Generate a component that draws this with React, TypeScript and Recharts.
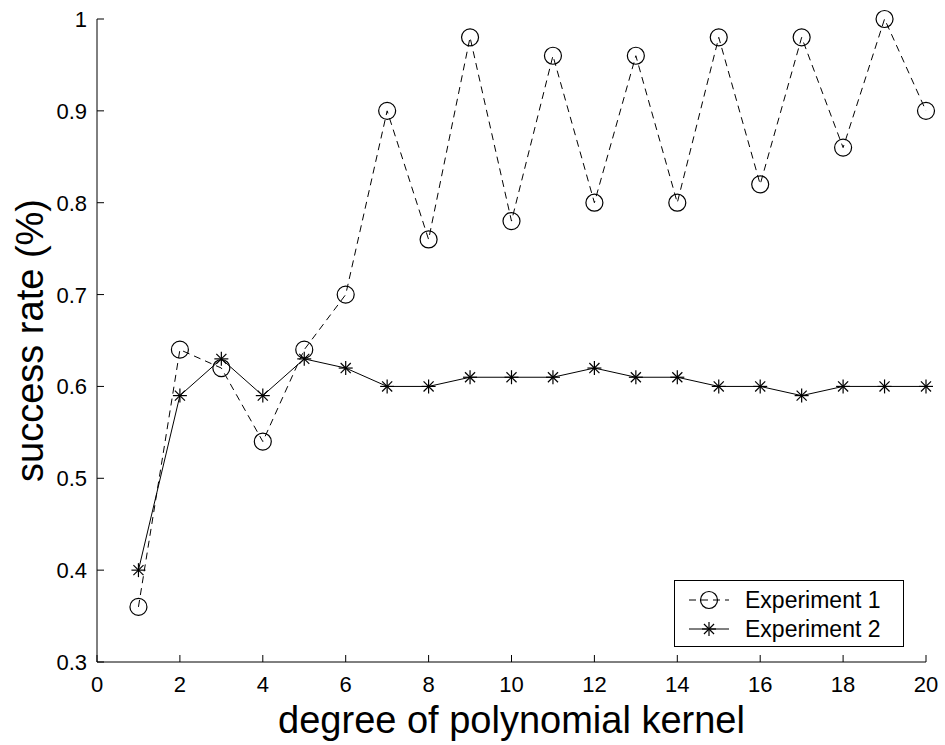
import React from 'react'
import { LineChart, Line, XAxis, YAxis, Legend } from 'recharts'

const degrees = [1, 2, 3, 4, 5, 6, 7, 8, 9, 10, 11, 12, 13, 14, 15, 16, 17, 18, 19, 20]
const experiment1 = [0.36, 0.64, 0.62, 0.54, 0.64, 0.7, 0.9, 0.76, 0.98, 0.78, 0.96, 0.8, 0.96, 0.8, 0.98, 0.82, 0.98, 0.86, 1.0, 0.9]
const experiment2 = [0.4, 0.59, 0.63, 0.59, 0.63, 0.62, 0.6, 0.6, 0.61, 0.61, 0.61, 0.62, 0.61, 0.61, 0.6, 0.6, 0.59, 0.6, 0.6, 0.6]
const xTicks = [0, 2, 4, 6, 8, 10, 12, 14, 16, 18, 20]
const yTicks = [0.3, 0.4, 0.5, 0.6, 0.7, 0.8, 0.9, 1]
const seriesNames = ['Experiment 1', 'Experiment 2']

const data = degrees.map((d, i) => ({ degree: d, exp1: experiment1[i], exp2: experiment2[i] }))

const FONT = '"Liberation Sans", Arial, Helvetica, sans-serif'
const TICK_LEN = 7

function BottomTick(props: any) {
  const { x, y, payload } = props
  return (
    <g>
      <line x1={x} y1={y} x2={x} y2={y - TICK_LEN} stroke="#000" />
      <text x={x} y={y + 30} textAnchor="middle" fontSize={22} fontFamily={FONT} fill="#000">
        {payload.value}
      </text>
    </g>
  )
}

function TopTick(props: any) {
  const { x, y } = props
  return <line x1={x} y1={y} x2={x} y2={y + TICK_LEN} stroke="#000" />
}

function LeftTick(props: any) {
  const { x, y, payload } = props
  return (
    <g>
      <line x1={x} y1={y} x2={x + TICK_LEN} y2={y} stroke="#000" />
      <text x={x - 10} y={y + 8} textAnchor="end" fontSize={22} fontFamily={FONT} fill="#000">
        {String(payload.value)}
      </text>
    </g>
  )
}

function RightTick(props: any) {
  const { x, y } = props
  return <line x1={x} y1={y} x2={x - TICK_LEN} y2={y} stroke="#000" />
}

function YLabel(props: any) {
  const vb = props.viewBox || {}
  const cy = (vb.y ?? 19) + (vb.height ?? 643) / 2
  const bx = 43
  return (
    <text
      x={bx}
      y={cy}
      transform={`rotate(-90, ${bx}, ${cy})`}
      textAnchor="middle"
      fontSize={38}
      fontFamily={FONT}
      fill="#000"
    >
      success rate (%)
    </text>
  )
}

function Asterisk({ cx, cy, s = 7 }: { cx: number; cy: number; s?: number }) {
  const d = s * 0.72
  return (
    <g stroke="#000" strokeWidth={1.2}>
      <line x1={cx - s} y1={cy} x2={cx + s} y2={cy} />
      <line x1={cx} y1={cy - s} x2={cx} y2={cy + s} />
      <line x1={cx - d} y1={cy - d} x2={cx + d} y2={cy + d} />
      <line x1={cx - d} y1={cy + d} x2={cx + d} y2={cy - d} />
    </g>
  )
}

const circleDot = (p: any) => (
  <circle key={'c' + p.index} cx={p.cx} cy={p.cy} r={8.5} fill="none" stroke="#000" strokeWidth={1.2} />
)
const starDot = (p: any) => <Asterisk key={'s' + p.index} cx={p.cx} cy={p.cy} />

function LegendBox() {
  return (
    <div style={{ width: 230, height: 67, border: '1px solid #000', background: '#fff', boxSizing: 'border-box' }}>
      <svg width={228} height={65}>
        <line x1={14} y1={19} x2={54} y2={19} stroke="#000" strokeDasharray="7 5" />
        <circle cx={34} cy={19} r={8.5} fill="none" stroke="#000" strokeWidth={1.2} />
        <text x={70} y={27} fontSize={23} fontFamily={FONT} fill="#000">{seriesNames[0]}</text>
        <line x1={14} y1={48} x2={54} y2={48} stroke="#000" />
        <Asterisk cx={34} cy={48} />
        <text x={70} y={56} fontSize={23} fontFamily={FONT} fill="#000">{seriesNames[1]}</text>
      </svg>
    </div>
  )
}

export default function App() {
  return (
    <div style={{ position: 'absolute', left: 0, top: 0, background: '#fff' }}>
      <LineChart width={945} height={745} data={data} margin={{ top: 19, right: 19, bottom: 0, left: 0 }}>
        <XAxis
          xAxisId="bottom"
          dataKey="degree"
          type="number"
          domain={[0, 20]}
          ticks={xTicks}
          interval={0}
          height={83}
          tickSize={0}
          tickMargin={0}
          tickLine={false}
          axisLine={{ stroke: '#000' }}
          tick={<BottomTick />}
          label={{ value: 'degree of polynomial kernel', position: 'insideBottom', offset: 12, fontSize: 38, fontFamily: FONT, fill: '#000' }}
        />
        <XAxis
          xAxisId="top"
          orientation="top"
          dataKey="degree"
          type="number"
          domain={[0, 20]}
          ticks={xTicks}
          interval={0}
          height={0}
          tickSize={0}
          tickMargin={0}
          tickLine={false}
          axisLine={{ stroke: '#000' }}
          tick={<TopTick />}
        />
        <YAxis
          yAxisId="left"
          type="number"
          domain={[0.3, 1]}
          ticks={yTicks}
          interval={0}
          width={97}
          tickSize={0}
          tickMargin={0}
          tickLine={false}
          axisLine={{ stroke: '#000' }}
          tick={<LeftTick />}
          label={<YLabel />}
        />
        <YAxis
          yAxisId="right"
          orientation="right"
          type="number"
          domain={[0.3, 1]}
          ticks={yTicks}
          interval={0}
          width={0}
          tickSize={0}
          tickMargin={0}
          tickLine={false}
          axisLine={{ stroke: '#000' }}
          tick={<RightTick />}
        />
        <Legend
          layout="vertical"
          align="center"
          verticalAlign="middle"
          content={<LegendBox />}
          wrapperStyle={{ position: 'absolute', left: 674, top: 580, width: 230, height: 67 }}
        />
        <Line
          xAxisId="bottom"
          yAxisId="left"
          type="linear"
          dataKey="exp1"
          name={seriesNames[0]}
          stroke="#000"
          strokeWidth={1}
          strokeDasharray="7 5"
          dot={circleDot}
          activeDot={false}
          isAnimationActive={false}
        />
        <Line
          xAxisId="bottom"
          yAxisId="left"
          type="linear"
          dataKey="exp2"
          name={seriesNames[1]}
          stroke="#000"
          strokeWidth={1}
          dot={starDot}
          activeDot={false}
          isAnimationActive={false}
        />
      </LineChart>
    </div>
  )
}
